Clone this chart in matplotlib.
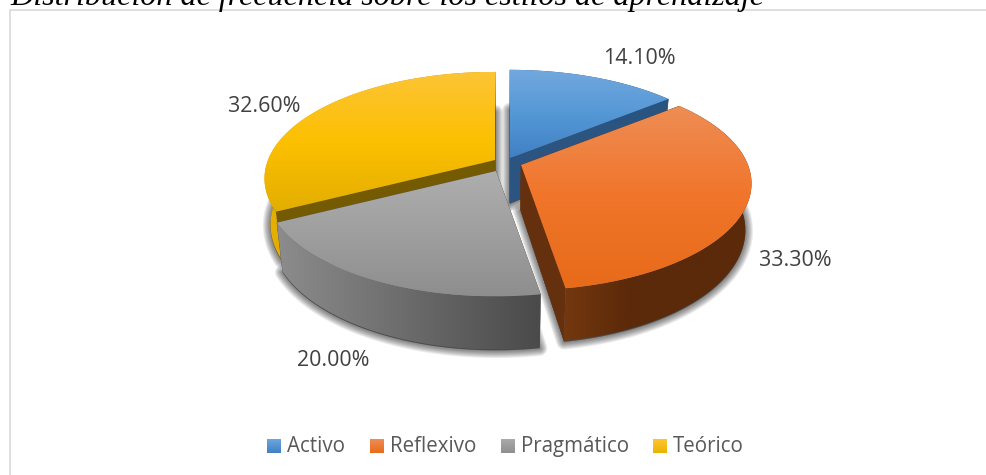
import numpy as np
import matplotlib
matplotlib.use('Agg')
import matplotlib.pyplot as plt
from matplotlib.colors import LinearSegmentedColormap
from matplotlib.patches import Polygon, Rectangle

# Data
categories = ['Activo', 'Reflexivo', 'Pragmático', 'Teórico']
values = [14.1, 33.3, 20.0, 32.6]
title = 'Distribución de frecuencia sobre los estilos de aprendizaje'

# Pie geometry in pixels (perspective ellipse plus extrusion)
RX, RY, PERSP = 227.0, 103.5, 0.174
CX0, CY0 = 505.0, 170.0
APEX = [(510, 158), (521, 165), (496, 171), (495, 160)]
LABEL_XY = [(639, 59), (795, 261), (333, 360), (264, 107)]
LEGEND_X = [267, 370, 501, 653]

TOP_COLS = [('#72a8de', '#4080c4'), ('#ee8d55', '#e76b19'),
            ('#aeaeae', '#8e8e8e'), ('#fcc436', '#e3ae00')]
TOP_MID = ['#5598d6', '#f1752a', '#9f9f9f', '#fdc000']
OUTER_COLS = [('#2a5480', '#2a5480'), ('#74380f', '#5c2a0a', '#5a2a0a', '#5c2a0a'),
              ('#8c8c8c', '#4a4a4a'), ('#e6b000', '#c89c00')]
RADIAL_COLS = ['#2b5580', '#64300d', '#555555', '#745a00']
SWATCH_COLS = [('#6ea6dd', '#3f80c4'), ('#f08c55', '#e86c19'),
               ('#aaaaaa', '#8f8f8f'), ('#fec530', '#eab400')]


def project(theta, apex):
    """Top face point for clockwise angle theta measured from 12 o'clock."""
    px, py = np.sin(theta), np.cos(theta)
    w = 1 + PERSP * py
    return np.column_stack([apex[0] + RX * px / w, apex[1] - RY * py / w])


def drop(pts):
    """Map top face points to the bottom face."""
    pts = np.atleast_2d(pts)
    x = CX0 + 0.975 * (pts[:, 0] - CX0)
    y = CY0 + 1.06 * (pts[:, 1] - CY0) + 45.5
    return np.column_stack([x, y])


def gradient_fill(ax, pts, cols, horizontal=False, zorder=2):
    """Fill a polygon with a linear gradient."""
    cmap = LinearSegmentedColormap.from_list('g', list(cols))
    x0, y0 = pts.min(axis=0)
    x1, y1 = pts.max(axis=0)
    ramp = np.linspace(0, 1, 128)
    arr = ramp[None, :] if horizontal else ramp[:, None]
    im = ax.imshow(arr, cmap=cmap, extent=(x0, x1, y1, y0), origin='upper',
                   aspect='auto', zorder=zorder, interpolation='bilinear')
    patch = Polygon(pts, closed=True, transform=ax.transData, fc='none', ec='none')
    ax.add_patch(patch)
    im.set_clip_path(patch)
    return im


fig = plt.figure(figsize=(9.86, 4.75), dpi=100)
ax = fig.add_axes([0, 0, 1, 1])
ax.axis('off')

ax.add_patch(Rectangle((10, 10), 990, 490, fc='white', ec='#d9d9d9', lw=1.2, zorder=0))

angles = np.cumsum([0] + values) / sum(values) * 2 * np.pi
arcs = []
for i in range(len(values)):
    th = np.linspace(angles[i], angles[i + 1], 120)
    arcs.append(project(th, APEX[i]))

# soft shadows from the bottom faces
for i in range(len(values)):
    apex = np.array([APEX[i]], dtype=float)
    bottom = drop(np.vstack([apex, arcs[i]]))
    bottom[:, 1] += 1
    for lw in [11, 9.5, 8, 6.5, 5, 3.5, 2]:
        ax.add_patch(Polygon(bottom, closed=True, fc=(0, 0, 0, 0.08), ec=(0, 0, 0, 0.08),
                             lw=lw, joinstyle='round', zorder=1))

# painter's order: back wedges first
for n, i in enumerate([3, 0, 2, 1]):
    z = 2 + n * 0.1
    apex = np.array([APEX[i]], dtype=float)
    arc = arcs[i]
    for end in (arc[0], arc[-1]):
        quad = np.vstack([apex, end, drop(end), drop(apex)])
        ax.add_patch(Polygon(quad, closed=True, fc=RADIAL_COLS[i], ec=RADIAL_COLS[i],
                             lw=0.3, zorder=z))
    side = np.vstack([arc, drop(arc)[::-1]])
    gradient_fill(ax, side, OUTER_COLS[i], horizontal=True, zorder=z + 0.01)
    top = np.vstack([apex, arc])
    gradient_fill(ax, top, (TOP_COLS[i][0], TOP_MID[i], TOP_COLS[i][1]), zorder=z + 0.02)

# value labels
for val, (lx, ly) in zip(values, LABEL_XY):
    ax.text(lx, ly, f'{val:.2f}%', ha='center', va='center', fontsize=15.4,
            family='Open Sans', color='#404040', zorder=5)

# legend
for name, lx, cols in zip(categories, LEGEND_X, SWATCH_COLS):
    sw = np.array([[lx, 439], [lx + 14, 439], [lx + 14, 453], [lx, 453]], dtype=float)
    gradient_fill(ax, sw, cols, zorder=5)
    ax.text(lx + 20, 452, name, ha='left', va='baseline', fontsize=14.8,
            family='Open Sans', color='#595959', zorder=5)

# caption above the chart, cut by the top edge
ax.text(10, 5, title, ha='left', va='baseline', fontsize=23.1, style='italic',
        family='Liberation Serif', color='black', zorder=5)

ax.set_xlim(0, 986)
ax.set_ylim(475, 0)
fig.savefig('out.png', dpi=100)
